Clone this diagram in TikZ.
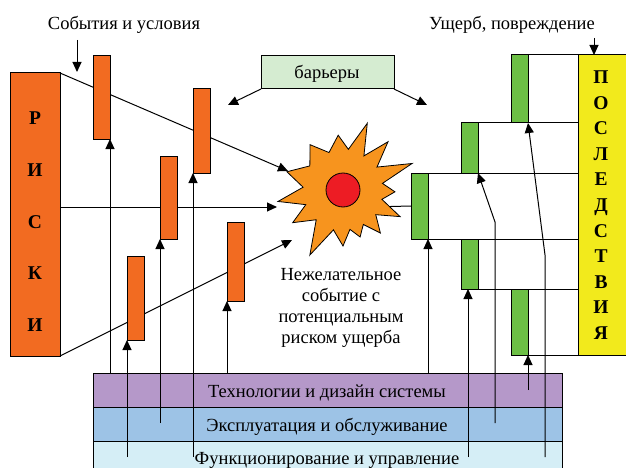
\documentclass[tikz,border=0pt]{standalone}
\usepackage{fontspec}
\setmainfont{Liberation Serif}
\usetikzlibrary{arrows.meta}
\definecolor{barorange}{HTML}{F26B21}
\definecolor{starorange}{HTML}{F7941E}
\definecolor{corered}{HTML}{ED1C24}
\definecolor{bargreen}{HTML}{6CBF45}
\definecolor{lightgreen}{HTML}{D5ECD1}
\definecolor{conyellow}{HTML}{F2EA1C}
\definecolor{techviolet}{HTML}{B598C9}
\definecolor{expblue}{HTML}{9DC3E6}
\definecolor{funccyan}{HTML}{D5EEF6}
\begin{document}
\begin{tikzpicture}[x=1pt,y=-1pt,
  every node/.style={inner sep=0pt, outer sep=0pt},
  box/.style={draw=black, line width=1pt, anchor=north west},
  conn/.style={draw=black, line width=1pt},
  arr/.style={conn, -{Triangle[length=10pt,width=9pt]}},
  lbl/.style={font=\fontsize{18.5}{21}\selectfont, anchor=base},
  bigl/.style={font=\fontsize{19.5}{21}\selectfont\bfseries, anchor=base},
]
\useasboundingbox (0,0) rectangle (626,468);

% bands
\node[box, fill=techviolet, minimum width=469pt, minimum height=34pt] (tech) at (93,373) {};
\node[box, fill=expblue, minimum width=469pt, minimum height=34pt] (expl) at (93,407) {};
\node[box, fill=funccyan, minimum width=469pt, minimum height=40pt] (func) at (93,441) {};
\node[lbl] (ttech) at (327,397) {Технологии и дизайн системы};
\node[lbl] (texpl) at (327,431) {Эксплуатация и обслуживание};
\node[lbl] (tfunc) at (327,464) {Функционирование и управление};

% right structure
\node[box, fill=white, minimum width=67pt, minimum height=68pt] (r1) at (511,55) {};
\node[box, fill=white, minimum width=117pt, minimum height=50pt] (r2) at (461,123) {};
\node[box, fill=white, minimum width=167pt, minimum height=66pt] (r3) at (411,173) {};
\node[box, fill=white, minimum width=117pt, minimum height=50pt] (r4) at (461,239) {};
\node[box, fill=white, minimum width=67pt, minimum height=66pt] (r5) at (511,289) {};
\node[box, fill=bargreen, minimum width=17pt, minimum height=68pt] (g1) at (511,55) {};
\node[box, fill=bargreen, minimum width=17pt, minimum height=50pt] (g2) at (461,123) {};
\node[box, fill=bargreen, minimum width=17pt, minimum height=66pt] (g3) at (411,173) {};
\node[box, fill=bargreen, minimum width=17pt, minimum height=50pt] (g4) at (461,239) {};
\node[box, fill=bargreen, minimum width=17pt, minimum height=66pt] (g5) at (511,289) {};
\node[box, fill=conyellow, minimum width=52pt, minimum height=300pt] (cons) at (578,55) {};
\foreach \L [count=\k from 0] in {П,О,С,Л,Е,Д,С,Т,В,И,Я}
  \node[bigl] (c\k) at (601,{83.5+25.6*\k}) {\L};

% star
\coordinate (starc) at (343,190);
\draw[conn] (370,207) -- (g3.west);
\begin{scope}[shift={(starc)}]
\draw[line width=0.8pt, fill=starorange]
 (-21:74) -- (-9.5:40) -- (2:52) -- (13.5:40) -- (25:63) -- (37:41) -- (49:57) -- (59.5:40)
 -- (70:50) -- (80:40) -- (90:56) -- (103.5:41) -- (117:73) -- (132:40) -- (147:60)
 -- (158.5:40) -- (170:66) -- (184:40) -- (198:59) -- (216:41) -- (234:56) -- (249.5:40)
 -- (265:55) -- (277.5:41) -- (290:71) -- (301.5:40) -- (313:66) -- (326:41) -- cycle;
\end{scope}
\node[circle, draw=black, line width=0.8pt, fill=corered, minimum size=34pt] (core) at (starc) {};
\node[align=center, font=\fontsize{18.5}{21}\selectfont, anchor=north] (undes) at (341,268.5)
  {Нежелательное\\событие с\\потенциальным\\риском ущерба};

% risks box
\node[box, fill=barorange, minimum width=50pt, minimum height=283pt] (riski) at (10,73) {};
\foreach \L [count=\k from 0] in {Р,И,С,К,И}
  \node[bigl] (rl\k) at (35,{124.5+51.75*\k}) {\L};

\coordinate (s1) at (288,171);
\coordinate (s2) at (277,207);
\coordinate (s3) at (292,240);
\draw[arr] (riski.north east) -- (s1);
\draw[arr] (riski.east |- s2) -- (s2);
\draw[arr] (riski.south east) -- (s3);

% barriers
\node[box, fill=barorange, minimum width=17pt, minimum height=83pt] (b1) at (93,56) {};
\node[box, fill=barorange, minimum width=17pt, minimum height=84pt] (b2) at (193,89) {};
\node[box, fill=barorange, minimum width=17pt, minimum height=83pt] (b3) at (160,156) {};
\node[box, fill=barorange, minimum width=17pt, minimum height=79pt] (b4) at (227,222) {};
\node[box, fill=barorange, minimum width=17pt, minimum height=84pt] (b5) at (127,256) {};

\coordinate (f2) at (193,457);
\coordinate (f3) at (160,423);
\coordinate (f5) at (127,457);
\draw[arr] (b1.south east |- tech.north) -- (b1.south east);
\draw[arr] (f2) -- (b2.south west);
\draw[arr] (f3) -- (b3.south west);
\draw[arr] (b4.south west |- tech.north) -- (b4.south west);
\draw[arr] (f5) -- (b5.south west);

% right arrows
\coordinate (h4) at (468,457);
\coordinate (h5) at (528,390);
\coordinate (h2) at (495,423);
\coordinate (k2) at (495,222);
\coordinate (h1) at (545,457);
\coordinate (k1) at (545,255);
\draw[arr] (g3.south east |- tech.north) -- (g3.south east);
\draw[arr] (h4) -- (h4 |- g4.south);
\draw[arr] (h5) -- (g5.south east);
\draw[arr] (h2) -- (k2) -- (g2.south east);
\draw[arr] (h1) -- (k1) -- (g1.south east);

% top labels
\node[lbl] (evt) at (124,29.5) {События и условия};
\coordinate (evta) at (77,40);
\draw[arr] (evta) -- (77,72);
\node[lbl] (dmg) at (512,29.5) {Ущерб, повреждение};
\coordinate (dmga) at (594,38);
\draw[arr] (dmga) -- (dmga |- cons.north);

\node[box, fill=lightgreen, minimum width=133pt, minimum height=33pt] (barr) at (261,56) {};
\node[lbl] (barrt) at (327,79) {барьеры};
\coordinate (ba1) at (228,105);
\coordinate (ba2) at (427,105);
\draw[arr] (barr.south west) -- (ba1);
\draw[arr] (barr.south east) -- (ba2);
\end{tikzpicture}
\end{document}
